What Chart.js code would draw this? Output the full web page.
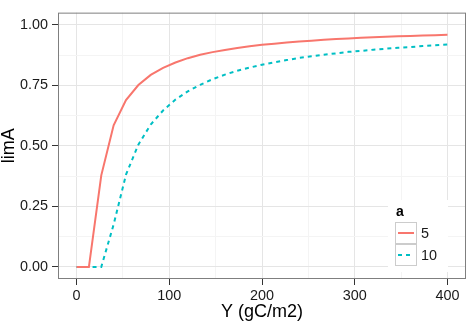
<!DOCTYPE html>
<html lang="en">
<head>
    <meta charset="UTF-8">
    <title>limA vs Y</title>
    <script src="https://cdn.jsdelivr.net/npm/chart.js"></script>
    <style>
        html, body {
            margin: 0;
            padding: 0;
            background: #fff;
        }

        .wrap {
            width: 473px;
            height: 322px;
        }
    </style>
</head>
<body>
    <div class="wrap">
        <canvas id="limChart" width="473" height="322"></canvas>
    </div>

    <script>
        // Data
        const yValues = [0, 13.33, 26.67, 40, 53.33, 66.67, 80, 93.33, 106.67, 120,
            133.33, 146.67, 160, 173.33, 186.67, 200, 213.33, 226.67, 240, 253.33,
            266.67, 280, 293.33, 306.67, 320, 333.33, 346.67, 360, 373.33, 386.67, 400];
        const limA5 = [0, 0, 0.378, 0.585, 0.689, 0.751, 0.793, 0.822, 0.844, 0.862,
            0.876, 0.887, 0.896, 0.904, 0.911, 0.917, 0.922, 0.927, 0.931, 0.934,
            0.938, 0.941, 0.943, 0.946, 0.948, 0.950, 0.952, 0.954, 0.956, 0.957, 0.959];
        const limA10 = [0, 0, 0, 0.175, 0.381, 0.505, 0.588, 0.646, 0.691, 0.725,
            0.752, 0.775, 0.794, 0.810, 0.823, 0.835, 0.845, 0.854, 0.863, 0.870,
            0.876, 0.882, 0.888, 0.892, 0.897, 0.901, 0.905, 0.908, 0.912, 0.915, 0.918];
        const seriesNames = ['5', '10'];
        const xTicks = [0, 100, 200, 300, 400];
        const yTicks = [0, 0.25, 0.5, 0.75, 1];

        const FONT = "'Liberation Sans', Arial, sans-serif";

        function points(ys) {
            return yValues.map((x, i) => ({ x: x, y: ys[i] }));
        }

        // major ticks plus minor ones halfway between
        function withMinor(major) {
            const out = [];
            for (let i = 0; i < major.length; i++) {
                out.push({ value: major[i], major: true });
                if (i < major.length - 1) {
                    out.push({ value: (major[i] + major[i + 1]) / 2, major: false });
                }
            }
            return out;
        }

        function isMajor(list, v) {
            return list.some(t => Math.abs(t - v) < 1e-9);
        }

        // panel border + legend inside the panel
        const panelDeco = {
            id: 'panelDeco',
            afterDatasetsDraw(chart) {
                const ctx = chart.ctx;
                const a = chart.chartArea;
                ctx.save();
                ctx.strokeStyle = '#7f7f7f';
                ctx.lineWidth = 1;
                ctx.strokeRect(a.left + 0.5, a.top + 0.5, a.right - a.left - 1, a.bottom - a.top - 1);

                // legend
                ctx.fillStyle = '#ffffff';
                ctx.fillRect(388, 200, 60, 72);
                ctx.fillStyle = '#000';
                ctx.font = 'bold 14px ' + FONT;
                ctx.textBaseline = 'middle';
                ctx.textAlign = 'left';
                ctx.fillText('a', 396, 212);

                chart.data.datasets.forEach((ds, i) => {
                    const top = 222 + i * 22;
                    ctx.strokeStyle = '#cccccc';
                    ctx.lineWidth = 1;
                    ctx.strokeRect(395.5, top + 0.5, 21, 21);
                    ctx.strokeStyle = ds.borderColor;
                    ctx.lineWidth = 2;
                    ctx.setLineDash(ds.borderDash || []);
                    ctx.beginPath();
                    ctx.moveTo(398, top + 11);
                    ctx.lineTo(414, top + 11);
                    ctx.stroke();
                    ctx.setLineDash([]);
                    ctx.fillStyle = '#1a1a1a';
                    ctx.font = '14.4px ' + FONT;
                    ctx.fillText(ds.label, 421, top + 12);
                });
                ctx.restore();
            }
        };

        const ctx = document.getElementById('limChart').getContext('2d');

        new Chart(ctx, {
            type: 'line',
            data: {
                datasets: [
                    {
                        label: seriesNames[0],
                        data: points(limA5),
                        borderColor: '#F8766D',
                        borderWidth: 2,
                        pointRadius: 0,
                        tension: 0,
                    },
                    {
                        label: seriesNames[1],
                        data: points(limA10),
                        borderColor: '#00BFC4',
                        borderWidth: 2,
                        borderDash: [4, 4],
                        pointRadius: 0,
                        tension: 0,
                    },
                ],
            },
            options: {
                responsive: false,
                animation: false,
                layout: {
                    padding: { left: 0, right: 7, top: 4, bottom: 0 },
                },
                plugins: {
                    legend: { display: false },
                    tooltip: { enabled: false },
                },
                scales: {
                    x: {
                        type: 'linear',
                        min: -20,
                        max: 420,
                        afterBuildTicks: s => { s.ticks = withMinor(xTicks); },
                        afterFit: s => { s.height = 43; },
                        ticks: {
                            color: '#1a1a1a',
                            font: { family: FONT, size: 14.4 },
                            padding: 2,
                            maxRotation: 0,
                            autoSkip: false,
                            callback: v => isMajor(xTicks, v) ? String(v) : '',
                        },
                        grid: {
                            color: c => isMajor(xTicks, c.tick.value) ? '#e5e5e5' : '#f4f4f4',
                            tickColor: c => isMajor(xTicks, c.tick.value) ? '#333333' : 'rgba(0,0,0,0)',
                            tickLength: 6,
                            lineWidth: 1,
                        },
                        border: { display: false },
                        title: {
                            display: true,
                            text: 'Y (gC/m2)',
                            color: '#000',
                            font: { family: FONT, size: 18, lineHeight: 1 },
                            padding: { top: 0, bottom: 1 },
                        },
                    },
                    y: {
                        type: 'linear',
                        min: -0.05,
                        max: 1.05,
                        afterBuildTicks: s => { s.ticks = withMinor(yTicks); },
                        afterFit: s => { s.width = 58; },
                        ticks: {
                            color: '#1a1a1a',
                            font: { family: FONT, size: 14.4 },
                            padding: 4,
                            autoSkip: false,
                            callback: v => isMajor(yTicks, v) ? v.toFixed(2) : '',
                        },
                        grid: {
                            color: c => isMajor(yTicks, c.tick.value) ? '#e5e5e5' : '#f4f4f4',
                            tickColor: c => isMajor(yTicks, c.tick.value) ? '#333333' : 'rgba(0,0,0,0)',
                            tickLength: 6,
                            lineWidth: 1,
                        },
                        border: { display: false },
                        title: {
                            display: true,
                            text: 'limA',
                            color: '#000',
                            font: { family: FONT, size: 18, lineHeight: 1 },
                            padding: { top: 0, bottom: 0 },
                        },
                    },
                },
            },
            plugins: [panelDeco],
        });
    </script>
</body>
</html>
